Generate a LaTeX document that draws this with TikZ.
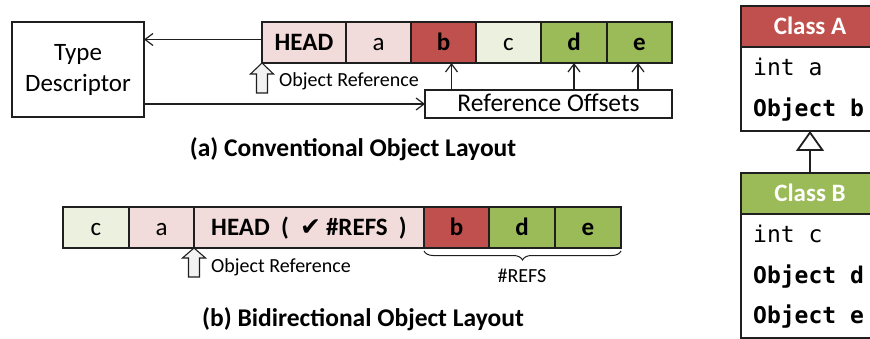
\documentclass[tikz,border=0pt]{standalone}
\usepackage{fontspec}
\setmainfont{Carlito}
\setmonofont{DejaVu Sans Mono}
\newfontfamily\symfont{DejaVu Sans}
\usetikzlibrary{arrows.meta,decorations.pathreplacing,positioning}
\definecolor{cred}{HTML}{C0504D}
\definecolor{cgreen}{HTML}{9BBB59}
\definecolor{lpink}{HTML}{F2DCDB}
\definecolor{lgreen}{HTML}{EBF1DE}
\definecolor{edge}{HTML}{1F1F1F}
\definecolor{hollowfill}{HTML}{F2F2F2}
\begin{document}
\begin{tikzpicture}[x=1pt,y=-1pt,
  cell/.style={draw=edge, line width=1.4pt, inner sep=0pt, outer sep=0pt,
    minimum height=41pt, font=\fontsize{25}{30}\selectfont,
    text height=17pt, text depth=0pt},
  box/.style={draw=edge, line width=1.3pt, inner sep=0pt, outer sep=0pt, fill=white},
  conn/.style={line width=1.2pt, draw=edge, -{Straight Barb[length=8pt,width=12pt,line width=1.2pt]}},
  hollow/.style={draw=edge, line width=1.1pt, fill=hollowfill, line join=miter},
  small/.style={font=\fontsize{20}{24}\selectfont, inner sep=0pt},
  caption/.style={font=\fontsize{25.5}{30}\selectfont\bfseries, inner sep=0pt},
  hdr/.style={draw=edge, line width=1.4pt, inner sep=0pt, outer sep=0pt,
    minimum width=138pt, text=white, font=\fontsize{25}{30}\selectfont\bfseries,
    text height=17pt, text depth=0pt},
  body/.style={draw=edge, line width=1.4pt, inner sep=0pt, outer sep=0pt,
    minimum width=138pt, fill=white},
  code/.style={font=\fontsize{23}{28}\ttfamily, inner sep=0pt, anchor=base west},
]
\clip (0,0) rectangle (870,339);
\fill[white] (0,0) rectangle (870,339);

% ---------- (a) conventional layout ----------
\node[cell, fill=lpink, minimum width=84pt, anchor=north west] (ahead) at (262,22) {\bfseries HEAD};
\node[cell, fill=lpink, minimum width=65pt, right=0pt of ahead] (aa) {a};
\node[cell, fill=cred, minimum width=65pt, right=0pt of aa] (ab) {\bfseries b};
\node[cell, fill=lgreen, minimum width=65pt, right=0pt of ab] (ac) {c};
\node[cell, fill=cgreen, minimum width=66pt, right=0pt of ac] (ad) {\bfseries d};
\node[cell, fill=cgreen, minimum width=65pt, right=0pt of ad] (ae) {\bfseries e};

\node[box, minimum width=132pt, minimum height=95pt, anchor=north west, align=center,
  font=\fontsize{25}{31}\selectfont] (td) at (12,22) {Type\\Descriptor};
\node[box, minimum width=247pt, minimum height=28pt, anchor=north west,
  font=\fontsize{25.5}{30}\selectfont, text height=16pt, text depth=0pt] (ro) at (425,90) {Reference Offsets};

\draw[conn] ([yshift=3pt]ahead.west) -- ([yshift=3pt]ahead.west -| td.east);
\draw[conn] (td.east |- ro.west) -- (ro.west);
\draw[conn] ([xshift=8pt]ab.south |- ro.north) -- ([xshift=8pt]ab.south);
\draw[conn] (ad.south |- ro.north) -- (ad.south);
\draw[conn] ([xshift=-1.5pt]ae.south |- ro.north) -- ([xshift=-1.5pt]ae.south);

\draw[hollow] (ahead.south west) -- ++(11.5,11) -- ++(-6,0) -- ++(0,19) -- ++(-11,0)
  -- ++(0,-19) -- ++(-6,0) -- cycle;
\node[small, anchor=base west] (oref) at (279,87) {Object Reference};

\node[caption, anchor=base] (capa) at (353,157) {(a) Conventional Object Layout};

% ---------- (b) bidirectional layout ----------
\node[cell, fill=lgreen, minimum width=66pt, anchor=north west] (bc) at (63,207) {c};
\node[cell, fill=lpink, minimum width=65pt, right=0pt of bc] (ba) {a};
\node[cell, fill=lpink, minimum width=230pt, right=0pt of ba] (bhead)
  {\bfseries HEAD\hspace{0.45em}(\hspace{0.45em}{\symfont\bfseries ✔}\hspace{0.2em}\#REFS\hspace{0.45em})};
\node[cell, fill=cred, minimum width=65pt, right=0pt of bhead] (bb) {\bfseries b};
\node[cell, fill=cgreen, minimum width=66pt, right=0pt of bb] (bd) {\bfseries d};
\node[cell, fill=cgreen, minimum width=66pt, right=0pt of bd] (be) {\bfseries e};

\draw[hollow] (bhead.south west) -- ++(11.5,10) -- ++(-6,0) -- ++(0,19) -- ++(-11,0)
  -- ++(0,-19) -- ++(-6,0) -- cycle;
\node[small, anchor=base west] (oref2) at (211,272) {Object Reference};

\draw[line width=1pt, draw=edge, decorate, decoration={brace, mirror, amplitude=9pt}]
  ([yshift=-3pt]bb.south west) -- ([yshift=-3pt]be.south east)
  coordinate[midway] (bracemid);
\node[small, anchor=base] (refs) at (522,282) {\#REFS};

\node[caption, anchor=base] (capb) at (363,326) {(b) Bidirectional Object Layout};

% ---------- class diagram ----------
\node[hdr, fill=cred, minimum height=41pt, anchor=north west] (cah) at (741,6) {Class A};
\node[body, minimum height=84pt, anchor=north west] (cab) at (741,47) {};
\node[code] (ca1) at (753,76) {int a};
\node[code] (ca2) at (753,117) {\bfseries Object b};

\node[hdr, fill=cgreen, minimum height=41pt, anchor=north west] (cbh) at (741,173) {Class B};
\node[body, minimum height=124pt, anchor=north west] (cbb) at (741,214) {};
\node[code] (cb1) at (753,243) {int c};
\node[code] (cb2) at (753,283) {\bfseries Object d};
\node[code] (cb3) at (753,323) {\bfseries Object e};

\draw[line width=1.4pt, draw=edge, -{Triangle[open, length=20pt, width=28pt, line width=1.8pt]}]
  (cbh.north) -- (cab.south);
\end{tikzpicture}
\end{document}
